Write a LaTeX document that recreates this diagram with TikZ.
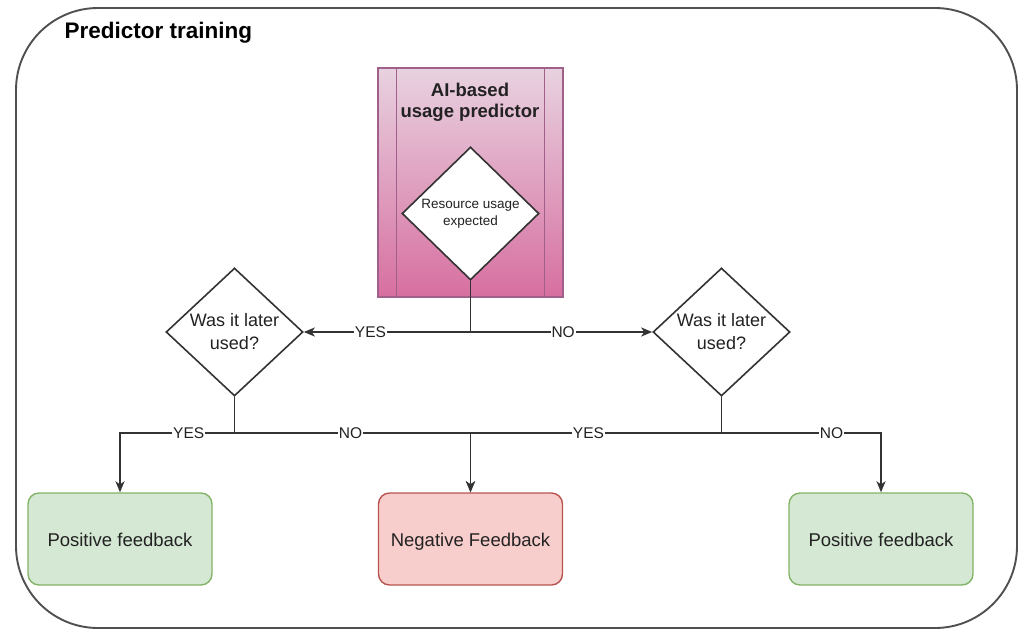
\documentclass[tikz,border=0pt]{standalone}
\usepackage{fontspec}
\setmainfont{Liberation Sans}
\usetikzlibrary{shapes.geometric,arrows.meta,calc}
\definecolor{lineC}{HTML}{333333}
\definecolor{frameC}{HTML}{505050}
\definecolor{txtC}{HTML}{222222}
\definecolor{aiTop}{HTML}{E8D2E0}
\definecolor{aiBot}{HTML}{D76FA0}
\definecolor{aiStroke}{HTML}{A0608A}
\definecolor{gFill}{HTML}{D5E8D4}
\definecolor{gStroke}{HTML}{82B366}
\definecolor{rFill}{HTML}{F8CECC}
\definecolor{rStroke}{HTML}{B85450}
\tikzset{
  conn/.style={draw=lineC, line width=1.6pt},
  arr/.style={conn, -{Stealth[length=11pt,width=9pt,inset=3pt]}},
  lbl/.style={fill=white, inner sep=1pt, text=txtC, font=\fontsize{15.5}{17}\selectfont},
  decide/.style={diamond, draw=lineC, fill=white, line width=1.6pt, inner sep=0pt,
    minimum width=137pt, minimum height=128pt, align=center, text=txtC,
    font=\fontsize{18}{23}\selectfont},
  fbox/.style={rounded corners=11pt, line width=1.4pt, minimum width=184pt,
    minimum height=92pt, align=center, text=txtC, text height=15pt, text depth=0pt,
    font=\fontsize{18.5}{21}\selectfont},
  posbox/.style={fbox, draw=gStroke, fill=gFill},
  negbox/.style={fbox, draw=rStroke, fill=rFill}
}
\begin{document}
\begin{tikzpicture}[x=1pt,y=-1pt]
\useasboundingbox (0,0) rectangle (1027,630);
% outer frame
\draw[draw=frameC, line width=1.9pt, rounded corners=82pt] (16,8) rectangle (1017,628);
\node[anchor=west, font=\bfseries\fontsize{22.5}{26}\selectfont, text=black] (title) at (61,33) {Predictor training};
% AI process box
\node[draw=aiStroke, line width=1.1pt, top color=aiTop, bottom color=aiBot,
      minimum width=185pt, minimum height=229pt, inner sep=0pt] (ai) at (470.5,182.5) {};
\draw[draw=aiStroke, line width=1.1pt] ([xshift=19pt]ai.north west) -- ([xshift=19pt]ai.south west);
\draw[draw=aiStroke, line width=1.1pt] ([xshift=-19pt]ai.north east) -- ([xshift=-19pt]ai.south east);
\node[align=center, font=\bfseries\fontsize{18.5}{21}\selectfont, text=txtC] (aitxt) at (470,102) {AI-based\\usage predictor};
\node[diamond, draw=lineC, fill=white, line width=1.6pt, inner sep=0pt,
      minimum width=137pt, minimum height=133pt, align=center, text=txtC,
      font=\fontsize{13.5}{16.5}\selectfont] (res) at (470.5,213.5) {Resource usage\\expected};
% decisions
\node[decide] (q1) at (234.5,332) {Was it later\\used?};
\node[decide] (q2) at (721.5,332) {Was it later\\used?};
% outcomes
\node[posbox] (p1) at (120,539) {Positive feedback};
\node[negbox] (neg) at (470.5,539) {Negative Feedback};
\node[posbox] (p2) at (881,539) {Positive feedback};
% connectors
\coordinate (j1) at (470.5,332);
\coordinate (j2) at (234.5,433);
\coordinate (j3) at (721.5,433);
\draw[conn] (res.south) -- (j1);
\draw[arr] (j1) -- node[lbl,pos=0.6]{YES} (q1.east);
\draw[arr] (j1) -- node[lbl,pos=0.51]{NO} (q2.west);
\draw[conn] (q1.south) -- (j2);
\draw[conn] (q2.south) -- (j3);
\draw[arr] (j2) -| node[lbl,pos=0.2]{YES} (p1.north);
\draw[arr] (j2) -| node[lbl,pos=0.246]{NO} (neg.north);
\draw[arr] (j3) -| node[lbl,pos=0.265]{YES} (neg.north);
\draw[arr] (j3) -| node[lbl,pos=0.345]{NO} (p2.north);
\end{tikzpicture}
\end{document}
